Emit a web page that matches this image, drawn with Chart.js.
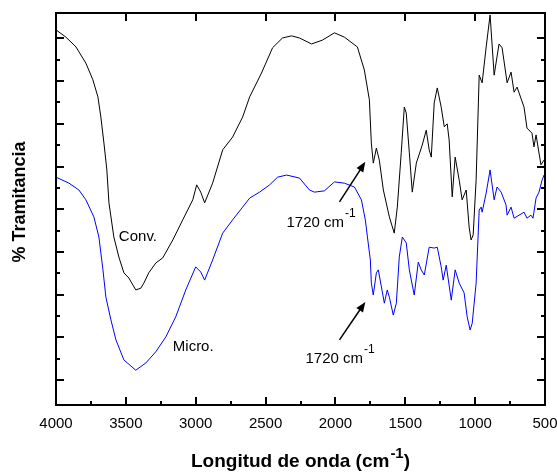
<!DOCTYPE html>
<html>
<head>
<meta charset="utf-8">
<script src="https://cdn.jsdelivr.net/npm/chart.js@4.4.0/dist/chart.umd.min.js"></script>
<style>
  html, body { margin: 0; padding: 0; background: #fff; }
  canvas { display: block; }
</style>
</head>
<body>
<canvas id="chart" width="557" height="472"></canvas>
<script>
// Spectrum: wavenumber (cm-1) and transmittance (arbitrary units)
const convWn = [4000,3929,3857,3786,3736,3700,3679,3657,3636,3621,3586,3550,3514,3479,3429,3393,3371,3336,3286,3236,
  3164,3093,3021,2993,2964,2936,2879,2807,2736,2664,2614,2529,2450,2379,2314,2257,2171,2093,2007,1936,
  1843,1793,1757,1743,1729,1707,1686,1657,1614,1579,1557,1529,1507,1493,1471,1450,1421,1379,1350,1329,
  1314,1293,1271,1243,1221,1200,1186,1164,1143,1114,1093,1064,1043,1029,1014,993,971,950,921,893,
  864,829,807,771,743,721,700,650,629,593,579,564,529,507];
const convT = [8.20,8.03,7.80,7.42,7.03,6.63,6.16,5.55,4.92,4.15,3.35,2.88,2.51,2.39,2.11,2.15,2.27,2.51,2.74,2.86,
  3.28,3.75,4.22,4.57,4.40,4.15,4.61,5.39,5.69,6.16,6.63,7.19,7.78,8.01,8.06,8.01,7.87,7.96,8.13,8.03,
  7.80,7.26,6.56,5.55,5.08,5.43,5.15,4.45,3.82,3.44,4.05,5.32,6.39,6.25,5.32,4.40,5.08,5.50,5.85,5.39,
  5.22,6.49,6.84,6.39,5.93,6.00,5.62,4.29,5.22,4.68,4.22,4.45,3.58,3.28,3.40,4.68,7.14,6.96,7.80,8.55,
  7.14,7.87,7.78,6.96,7.21,6.74,6.86,6.39,5.90,5.78,5.46,5.74,5.04,5.15];

const microWn = [4000,3907,3836,3786,3729,3693,3664,3643,3607,3571,3514,3429,3357,3286,3214,3143,3071,3000,2964,2936,
  2879,2807,2736,2664,2614,2543,2471,2414,2350,2257,2186,2150,2079,2007,1936,1864,1814,1786,1771,1750,
  1743,1729,1707,1693,1671,1650,1629,1614,1586,1564,1543,1521,1493,1471,1436,1407,1386,1364,1329,1293,
  1271,1243,1229,1207,1171,1143,1114,1079,1057,1036,1021,993,971,957,950,921,893,864,843,814,
  779,771,743,721,686,650,629,600,586,564,543,521,507];
const microT = [4.75,4.61,4.45,4.22,3.82,3.35,2.58,1.94,1.41,0.94,0.47,0.23,0.40,0.66,1.01,1.48,2.11,2.65,2.53,2.34,
  2.81,3.44,3.75,4.05,4.26,4.40,4.57,4.75,4.80,4.73,4.45,4.40,4.43,4.64,4.61,4.52,4.22,3.75,3.35,2.81,
  2.27,1.99,2.51,2.58,2.18,1.80,2.11,1.94,1.52,1.80,2.88,3.35,3.21,2.58,1.99,2.76,2.58,2.46,3.11,3.09,
  3.11,2.65,2.34,2.69,1.87,2.58,2.27,2.04,1.48,1.17,1.33,2.27,3.98,4.05,3.93,4.38,4.92,4.22,4.52,4.40,
  4.10,3.86,4.05,3.79,3.86,3.93,3.79,3.86,3.79,4.26,4.40,4.68,4.80];

// Axis ticks
const xTicks = [4000, 3500, 3000, 2500, 2000, 1500, 1000, 500];
const xMinor = [3750, 3250, 2750, 2250, 1750, 1250, 750];
const yTicks = [0, 1, 2, 3, 4, 5, 6, 7, 8];
const yMinor = [0.5, 1.5, 2.5, 3.5, 4.5, 5.5, 6.5, 7.5];

// Text labels placed in data units
const curveLabels = [
  { text: 'Conv.', wn: 3550, t: 3.26 },
  { text: 'Micro.', wn: 3164, t: 0.68 }
];
const peakNotes = [
  { wn: 2350, t: 3.58, fromWn: 1971, fromT: 4.17, toWn: 1786, toT: 5.11 },
  { wn: 2214, t: 0.40, fromWn: 1971, fromT: 0.94, toWn: 1786, toT: 1.83 }
];

const FONT = '"Liberation Sans", Arial, Helvetica, sans-serif';

const decor = {
  id: 'decor',
  afterDraw(chart) {
    const { ctx, chartArea: a, scales: { x, y } } = chart;
    ctx.save();
    ctx.strokeStyle = '#000';
    ctx.fillStyle = '#000';
    ctx.lineWidth = 2;

    const seg = (x1, y1, x2, y2) => {
      ctx.beginPath(); ctx.moveTo(x1, y1); ctx.lineTo(x2, y2); ctx.stroke();
    };

    // frame
    ctx.strokeRect(a.left, a.top, a.right - a.left, a.bottom - a.top);

    // ticks pointing inward
    xTicks.forEach(v => {
      const px = Math.round(x.getPixelForValue(v));
      seg(px, a.bottom, px, a.bottom - 8);
      seg(px, a.top, px, a.top + 8);
    });
    xMinor.forEach(v => {
      const px = Math.round(x.getPixelForValue(v));
      seg(px, a.bottom, px, a.bottom - 4);
    });
    yTicks.forEach(v => {
      const py = Math.round(y.getPixelForValue(v));
      seg(a.left, py, a.left + 8, py);
      seg(a.right, py, a.right - 8, py);
    });
    yMinor.forEach(v => {
      const py = Math.round(y.getPixelForValue(v));
      seg(a.left, py, a.left + 4, py);
      seg(a.right, py, a.right - 4, py);
    });

    // x tick labels
    ctx.font = '15px ' + FONT;
    ctx.textAlign = 'center';
    ctx.textBaseline = 'alphabetic';
    xTicks.forEach(v => {
      ctx.fillText(String(v), x.getPixelForValue(v), 428);
    });

    // curve labels
    ctx.textAlign = 'left';
    curveLabels.forEach(l => {
      ctx.fillText(l.text, x.getPixelForValue(l.wn), y.getPixelForValue(l.t));
    });

    // 1720 cm-1 notes with arrows
    peakNotes.forEach(n => {
      const tx = x.getPixelForValue(n.wn), ty = y.getPixelForValue(n.t);
      ctx.font = '15px ' + FONT;
      ctx.fillText('1720 cm', tx, ty);
      const w = ctx.measureText('1720 cm').width;
      ctx.font = '12px ' + FONT;
      ctx.fillText('-1', tx + w + 1, ty - 10);

      const x1 = x.getPixelForValue(n.fromWn), y1 = y.getPixelForValue(n.fromT);
      const x2 = x.getPixelForValue(n.toWn), y2 = y.getPixelForValue(n.toT);
      const ang = Math.atan2(y2 - y1, x2 - x1);
      const hl = 10, hw = 4;
      ctx.lineWidth = 1.5;
      seg(x1, y1, x2 - Math.cos(ang) * hl * 0.8, y2 - Math.sin(ang) * hl * 0.8);
      ctx.beginPath();
      ctx.moveTo(x2, y2);
      ctx.lineTo(x2 - Math.cos(ang) * hl - Math.sin(ang) * hw, y2 - Math.sin(ang) * hl + Math.cos(ang) * hw);
      ctx.lineTo(x2 - Math.cos(ang) * hl + Math.sin(ang) * hw, y2 - Math.sin(ang) * hl - Math.cos(ang) * hw);
      ctx.closePath();
      ctx.fill();
    });

    // x axis title with superscript
    const main = 'Longitud de onda (cm';
    ctx.font = 'bold 19px ' + FONT;
    const wMain = ctx.measureText(main).width;
    const wClose = ctx.measureText(')').width;
    ctx.font = 'bold 15px ' + FONT;
    const wSup = ctx.measureText('-1').width;
    let sx = (a.left + a.right) / 2 - (wMain + wSup + wClose + 1) / 2;
    ctx.font = 'bold 19px ' + FONT;
    ctx.fillText(main, sx, 467);
    ctx.font = 'bold 15px ' + FONT;
    ctx.fillText('-1', sx + wMain + 1, 458);
    ctx.font = 'bold 19px ' + FONT;
    ctx.fillText(')', sx + wMain + wSup + 1, 467);

    // y axis title
    ctx.translate(20, 202);
    ctx.rotate(-Math.PI / 2);
    ctx.font = 'bold 18px ' + FONT;
    ctx.textAlign = 'center';
    ctx.textBaseline = 'middle';
    ctx.fillText('% Tramitancia', 0, 0);
    ctx.restore();
  }
};

new Chart(document.getElementById('chart'), {
  type: 'line',
  data: {
    datasets: [
      {
        label: 'Conv.',
        data: convWn.map((w, i) => ({ x: w, y: convT[i] })),
        borderColor: '#000000',
        borderWidth: 1,
        pointRadius: 0,
        tension: 0
      },
      {
        label: 'Micro.',
        data: microWn.map((w, i) => ({ x: w, y: microT[i] })),
        borderColor: '#0000ff',
        borderWidth: 1,
        pointRadius: 0,
        tension: 0
      }
    ]
  },
  options: {
    responsive: false,
    animation: false,
    devicePixelRatio: 1,
    layout: { padding: { left: 56, right: 12, top: 13, bottom: 67 } },
    plugins: { legend: { display: false }, tooltip: { enabled: false } },
    scales: {
      x: { type: 'linear', reverse: true, min: 500, max: 4000, display: false },
      y: { min: -0.585, max: 8.595, display: false }
    }
  },
  plugins: [decor]
});
</script>
</body>
</html>
